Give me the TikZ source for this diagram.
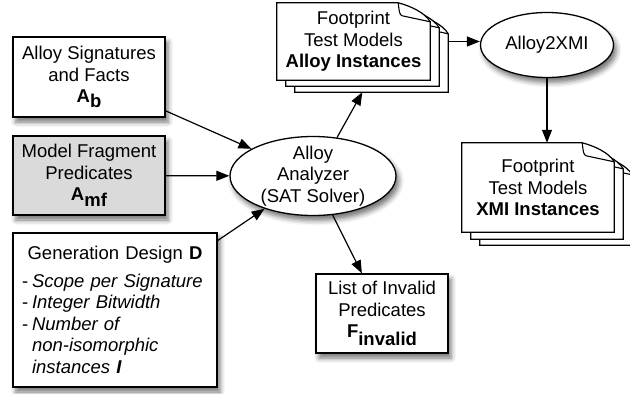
\documentclass[tikz,border=0pt]{standalone}
\usepackage{fontspec}
\setmainfont{Liberation Sans}
\usetikzlibrary{arrows.meta,shadows.blur,calc,shapes.geometric}
\pgfdeclarelayer{bg}
\pgfsetlayers{bg,main}
\newcommand\pageshape[1]{%
  \filldraw[pagebd] (#1.north west) -- ([xshift=-32pt]#1.north east)
    .. controls ([xshift=-20pt,yshift=-3pt]#1.north east) and ([xshift=-5pt,yshift=-10pt]#1.north east) ..
    ([yshift=-19pt]#1.north east) -- (#1.south east) -- (#1.south west) -- cycle;
  \draw[foldln] ([xshift=-32pt]#1.north east)
    .. controls ([xshift=-31pt,yshift=-8pt]#1.north east) and ([xshift=-31pt,yshift=-12pt]#1.north east) ..
    ([xshift=-28pt,yshift=-13pt]#1.north east) -- ([yshift=-19pt]#1.north east);}
\begin{document}
\begin{tikzpicture}[x=1pt,y=-1pt,
  every node/.style={font=\fontsize{18.5}{21.5}\selectfont, text=black},
  box/.style={draw=black, line width=1.3pt, fill=white, rectangle, inner sep=0pt, align=center,
    blur shadow={shadow xshift=3pt, shadow yshift=-5pt, shadow blur radius=5pt, shadow opacity=55}},
  ell/.style={box, ellipse, inner xsep=0pt, inner ysep=-5pt},
  page/.style={rectangle, inner sep=0pt, align=center},
  pagebd/.style={draw=black, line width=1.2pt, fill=white},
  foldln/.style={draw=black, line width=1.1pt},
  arr/.style={line width=1.2pt, -{Triangle[length=13pt,width=10pt]}},
]
\useasboundingbox (0,0) rectangle (630,394);

% input boxes
\node[box, minimum width=152, minimum height=80] (ab) at (89,77)
  {Alloy Signatures\\and Facts\\\textbf{A}\raisebox{-5pt}{\textbf{b}}};
\node[box, fill={rgb,255:red,218;green,218;blue,218}, minimum width=152, minimum height=79] (amf) at (89,175.5)
  {Model Fragment\\Predicates\\\textbf{A}\raisebox{-6pt}{\textbf{mf}}};
\node[box, minimum width=204, minimum height=154, text width=186pt, align=left] (gd) at (115,310)
  {\makebox[186pt]{Generation Design \textbf{D}}\\[6pt]
   \makebox[10pt][l]{-}\textit{Scope per Signature}\\
   \makebox[10pt][l]{-}\textit{Integer Bitwidth}\\
   \makebox[10pt][l]{-}\textit{Number of}\\
   \hspace*{10pt}\textit{non-isomorphic}\\
   \hspace*{10pt}\textit{instances \textbf{I}}};

% analyzer
\node[ell, minimum width=166, minimum height=79] (an) at (313,176)
  {Alloy\\Analyzer\\(SAT Solver)};

% invalid predicates
\node[box, minimum width=132, minimum height=79] (inv) at (382,313.5)
  {List of Invalid\\Predicates\\\textbf{F}\raisebox{-8pt}{\textbf{invalid}}};

% Alloy instance stack
\node[page, minimum width=153, minimum height=77] (p1c) at (371.5,53.5) {};
\node[page, minimum width=153, minimum height=77] (p1b) at (362.5,47.5) {};
\node[page, minimum width=153, minimum height=77] (p1a) at (353.5,41.5)
  {Footprint\\Test Models\\\textbf{Alloy Instances}};

% Alloy2XMI
\node[ell, minimum width=133, minimum height=65] (x2) at (547,45) {Alloy2XMI};

% XMI instance stack
\node[page, minimum width=152, minimum height=89] (p2c) at (556,200.5) {};
\node[page, minimum width=152, minimum height=89] (p2b) at (547,194.5) {};
\node[page, minimum width=152, minimum height=89] (p2a) at (538,187.5)
  {Footprint\\Test Models\\\textbf{XMI Instances}};

\begin{pgfonlayer}{bg}
  \pageshape{p1c}\pageshape{p1b}\pageshape{p1a}
  \pageshape{p2c}\pageshape{p2b}\pageshape{p2a}
\end{pgfonlayer}

% connectors
\draw[arr] (ab) -- (an);
\draw[arr] (amf) -- (an);
\draw[arr] (gd) -- (an);
\draw[arr] (an) -- (inv);
\draw[arr] (an.58) -- ($(p1c.south west)!0.44!(p1c.south east)$);
\draw[arr] (p1c.east |- p1a.center) -- (x2.west |- p1a.center);
\draw[arr] (x2.south) -- (x2.south |- p2a.north);
\end{tikzpicture}
\end{document}
